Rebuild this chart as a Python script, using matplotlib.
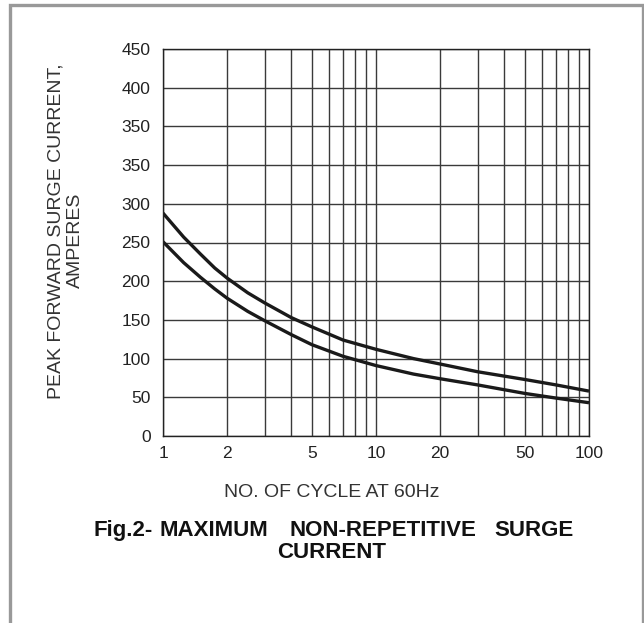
import matplotlib
matplotlib.use("Agg")
import matplotlib.pyplot as plt
from matplotlib.patches import Rectangle
import numpy as np

plt.rcParams['font.family'] = ['Liberation Sans', 'DejaVu Sans']

# Data (values read in the chart's label units)
cycles = [1, 1.25, 1.5, 1.75, 2, 2.5, 3, 4, 5, 7, 10, 15, 20, 30, 50, 70, 100]
upper_curve = [288, 257, 235, 217, 204, 185, 172, 153, 141, 124, 112, 100, 93, 83, 73, 66, 58]
lower_curve = [251, 224, 205, 190, 178, 161, 149, 131, 118, 103, 91, 80, 74, 66, 55, 49, 43]
x_tick_values = [1, 2, 5, 10, 20, 50, 100]
x_tick_labels = ["1", "2", "5", "10", "20", "50", "100"]
y_tick_labels = ["0", "50", "100", "150", "200", "250", "300", "350", "350", "400", "450"]

W, H = 644, 623
fig = plt.figure(figsize=(W / 100, H / 100), dpi=100)

def fx(px):
    return px / W

def fy(py):
    return 1 - py / H

# outer gray frame
fig.patches.append(Rectangle((fx(9.5), fy(700)), fx(642.5) - fx(9.5), fy(5.5) - fy(700),
                             transform=fig.transFigure, fill=False,
                             edgecolor="#999999", linewidth=2.4))

ax = fig.add_axes([fx(163), fy(436), fx(589) - fx(163), fy(49) - fy(436)])
ax.set_xscale("log")
ax.set_xlim(1, 100)
ax.set_ylim(0, 500)

grid_color = "#3a3a3a"
ax.set_xticks(x_tick_values)
ax.set_xticklabels(x_tick_labels)
ax.set_xticks([2, 3, 4, 5, 6, 7, 8, 9, 20, 30, 40, 50, 60, 70, 80, 90], minor=True)
ax.set_xticklabels([], minor=True)
ax.set_yticks(np.arange(0, 501, 50))
ax.set_yticklabels(y_tick_labels)
ax.grid(True, which="both", axis="x", color=grid_color, linewidth=1.0)
ax.grid(True, which="major", axis="y", color=grid_color, linewidth=1.0)
ax.tick_params(axis="both", which="both", length=0, labelsize=12.5, colors="#222222")
ax.tick_params(axis="x", pad=7)
ax.tick_params(axis="y", pad=9)
for s in ax.spines.values():
    s.set_color("#222222")
    s.set_linewidth(1.0)

ax.plot(cycles, upper_curve, color="#1a1a1a", linewidth=2.4,
        solid_capstyle="butt", solid_joinstyle="round")
ax.plot(cycles, lower_curve, color="#1a1a1a", linewidth=2.4,
        solid_capstyle="butt", solid_joinstyle="round")

# axis labels
fig.text(fx(332), fy(497), "NO. OF CYCLE AT 60Hz", ha="center", va="baseline",
         fontsize=14, color="#333333")
fig.text(fx(56), fy(231), "PEAK FORWARD SURGE CURRENT,", ha="center", va="center",
         rotation=90, fontsize=14, color="#333333")
fig.text(fx(75), fy(240), "AMPERES", ha="center", va="center",
         rotation=90, fontsize=14, color="#333333")

# title with wide word spacing
fig.text(fx(153), fy(536), "Fig.2-", ha="right", va="baseline", fontsize=16,
         fontweight="bold", color="#111111")
title_words = [("MAXIMUM", 214), ("NON-REPETITIVE", 382.5), ("SURGE", 534)]
for word, xpos in title_words:
    fig.text(fx(xpos), fy(536), word, ha="center", va="baseline", fontsize=16,
             fontweight="bold", color="#111111")
fig.text(fx(332), fy(558), "CURRENT", ha="center", va="baseline", fontsize=16,
         fontweight="bold", color="#111111")

fig.savefig("out.png", dpi=100, facecolor="white")
